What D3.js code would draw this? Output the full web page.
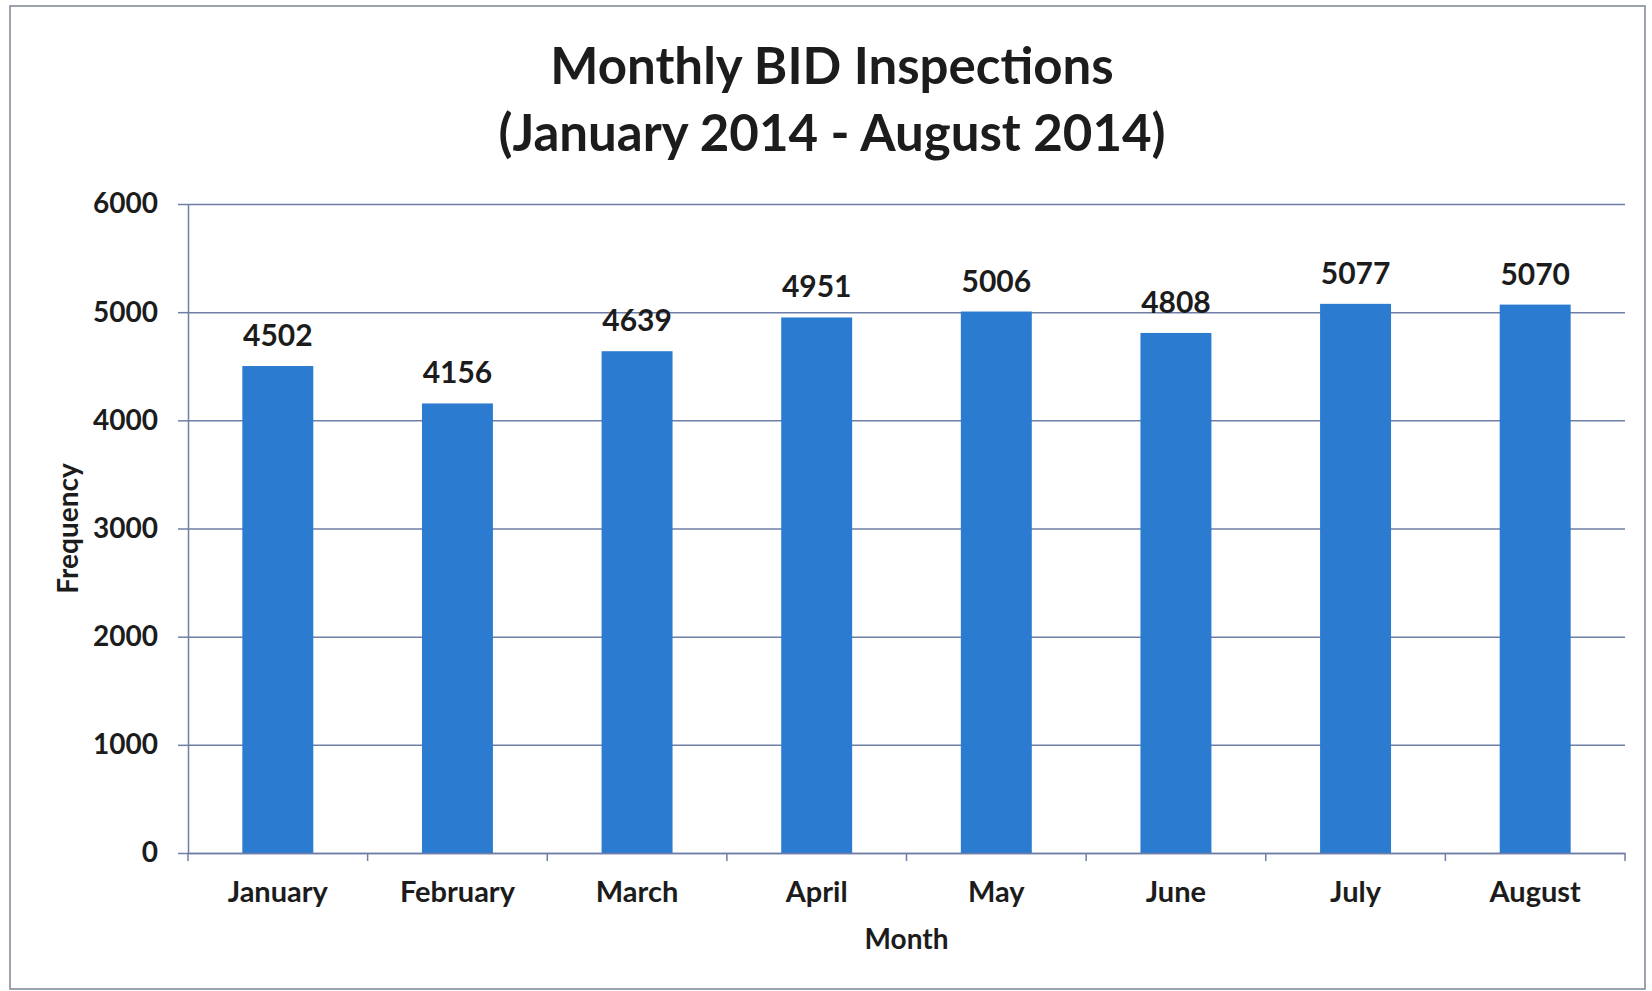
<!DOCTYPE html>
<html>
<head>
<meta charset="utf-8">
<script src="https://cdn.jsdelivr.net/npm/d3@7"></script>
<style>
  html, body {
    margin: 0;
    padding: 0;
    background: #fff;
  }
  svg {
    display: block;
    font-family: Lato, 'Open Sans', sans-serif;
  }
  .grid line {
    stroke: #6f7ea6;
    stroke-width: 1.5;
  }
  .grid .domain {
    display: none;
  }
  .axis .domain,
  .axis line {
    stroke: #6f7ea6;
    stroke-width: 1.5;
  }
  .axis text {
    fill: #1c1c1c;
    font-weight: bold;
    font-family: Lato, 'Open Sans', sans-serif;
  }
</style>
</head>
<body>
<div id="chart"></div>
<script>
const months = ['January', 'February', 'March', 'April', 'May', 'June', 'July', 'August']
const inspections = [4502, 4156, 4639, 4951, 5006, 4808, 5077, 5070]
const yTicks = [0, 1000, 2000, 3000, 4000, 5000, 6000]
const titleLines = ['Monthly BID Inspections', '(January 2014 - August 2014)']

const width = 1652
const height = 991
const margin = { top: 204, right: 27, bottom: 138, left: 188 }
const innerW = width - margin.left - margin.right
const innerH = height - margin.top - margin.bottom

const svg = d3
  .select('#chart')
  .append('svg')
  .attr('width', width)
  .attr('height', height)
  .attr('viewBox', `0 0 ${width} ${height}`)

// outer frame of the chart object
svg
  .append('rect')
  .attr('x', 10)
  .attr('y', 6)
  .attr('width', width - 17)
  .attr('height', height - 8)
  .attr('fill', 'none')
  .attr('stroke', '#7d8492')
  .attr('stroke-width', 1.5)

const g = svg.append('g').attr('transform', `translate(${margin.left},${margin.top})`)

const x = d3.scaleBand().domain(months).range([0, innerW]).paddingInner(0.605).paddingOuter(0.3025)
const y = d3.scaleLinear().domain([0, 6000]).range([innerH, 0])

// horizontal gridlines
g.append('g')
  .attr('class', 'grid')
  .call(d3.axisLeft(y).tickValues(yTicks).tickSize(-innerW).tickFormat(''))

// bars
g.append('g')
  .selectAll('rect')
  .data(inspections)
  .join('rect')
  .attr('x', (d, i) => x(months[i]))
  .attr('y', (d) => y(d))
  .attr('width', x.bandwidth())
  .attr('height', (d) => innerH - y(d))
  .attr('fill', '#2b7bd0')

// value labels
g.append('g')
  .selectAll('text')
  .data(inspections)
  .join('text')
  .attr('x', (d, i) => x(months[i]) + x.bandwidth() / 2)
  .attr('y', (d) => y(d) - 20)
  .attr('text-anchor', 'middle')
  .attr('fill', '#1c1c1c')
  .style('font-size', '30px')
  .style('font-weight', 'bold')
  .text((d) => d)

// y axis
g.append('g')
  .attr('class', 'axis axis-y')
  .call(d3.axisLeft(y).tickValues(yTicks).tickFormat(d3.format('d')).tickSize(10).tickPadding(20).tickSizeOuter(0))
  .selectAll('text')
  .style('font-size', '28px')

// x axis, ticks on the band edges like Excel
const xAxis = g.append('g')
  .attr('class', 'axis axis-x')
  .attr('transform', `translate(0,${innerH})`)
  .call(d3.axisBottom(x).tickSize(0).tickPadding(28).tickSizeOuter(0))
xAxis.selectAll('text').style('font-size', '29px')
xAxis
  .selectAll('line.edge')
  .data(d3.range(months.length + 1))
  .join('line')
  .attr('class', 'edge')
  .attr('x1', (i) => (i * innerW) / months.length)
  .attr('x2', (i) => (i * innerW) / months.length)
  .attr('y1', 0)
  .attr('y2', 8)

// title
svg
  .append('text')
  .attr('text-anchor', 'middle')
  .attr('fill', '#1c1c1c')
  .style('font-size', '51px')
  .style('font-weight', 'bold')
  .selectAll('tspan')
  .data(titleLines)
  .join('tspan')
  .attr('x', 832)
  .attr('y', (d, i) => 84 + i * 67)
  .text((d) => d)

// axis titles
svg
  .append('text')
  .attr('x', margin.left + innerW / 2)
  .attr('y', 949)
  .attr('text-anchor', 'middle')
  .attr('fill', '#1c1c1c')
  .style('font-size', '28px')
  .style('font-weight', 'bold')
  .text('Month')

svg
  .append('text')
  .attr('transform', `translate(78,${margin.top + innerH / 2}) rotate(-90)`)
  .attr('text-anchor', 'middle')
  .attr('fill', '#1c1c1c')
  .style('font-size', '28px')
  .style('font-weight', 'bold')
  .text('Frequency')
</script>
</body>
</html>
